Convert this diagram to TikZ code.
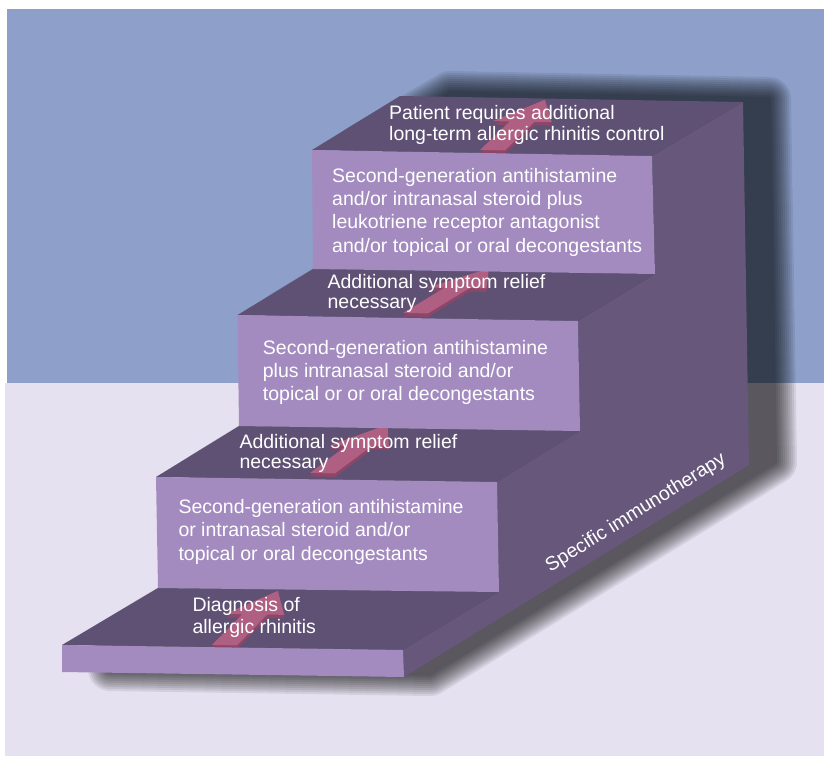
\documentclass[tikz,border=0pt]{standalone}
\usepackage{fontspec}
\setmainfont{Liberation Sans}
\definecolor{bgblue}{HTML}{8EA0CA}
\definecolor{bglav}{HTML}{E6E1F0}
\definecolor{riser}{HTML}{A38BC0}
\definecolor{tread}{HTML}{5F5174}
\definecolor{sideface}{HTML}{66577B}
\definecolor{arrowtop}{HTML}{AF5F81}
\definecolor{arrowside}{HTML}{8E4668}
\newcommand\stairArrow[4]{%
  \begin{scope}[shift={(#1,#2)}, x={(1pt,-0.015pt)}, y={(#3pt,#4pt)}]
    \fill[arrowside, yshift=-3.5pt] (0,0)--(25,0)--(25,0.55)--(42,0.55)--(12.5,0.97)--(-17,0.55)--(0,0.55)--cycle;
    \fill[arrowtop] (0,0)--(25,0)--(25,0.55)--(42,0.55)--(12.5,0.97)--(-17,0.55)--(0,0.55)--cycle;
  \end{scope}}
\tikzset{
  lbl/.style={anchor=north west, inner sep=0pt, align=left, text=white,
    font=\fontsize{19.5}{#1}\selectfont},
  rot/.style={inner sep=0pt, text=white, font=\fontsize{19.5}{21}\selectfont}
}
\begin{document}
\begin{tikzpicture}[x=1pt,y=-1pt]
\useasboundingbox (0,0) rectangle (824,756);
\fill[white] (0,0) rectangle (824,756);
\fill[bgblue] (7,9) rectangle (824,383);
\fill[bglav] (5,383) rectangle (824,756);
% soft shadow (right and below only)
\foreach \w in {44,40,...,4}{
  \begin{scope}[transparency group, opacity=0.08]
  \filldraw[black, line width=\w pt, line join=round, shift={(26,-3)}]
    (424,96)--(743,102)--(749,465)--(404,677)--(84,672)--(84,645)--(178,588)--(176,477)--(259,426)--(257.5,315)--(333,269)--(332,150)--cycle;
  \end{scope}
}
% side face
\fill[sideface] (743,102)--(652,156)--(655,274)--(578,321)--(580,431)--(497,482)--(499,592)--(403,650)--(404,677)--(749,465)--cycle;
% treads
\fill[tread] (312,150)--(652,156)--(743,102)--(400,96)--cycle;
\fill[tread] (237.5,315)--(578,321)--(655,274)--(313,269)--cycle;
\fill[tread] (156,477)--(497,482)--(580,431)--(239,426)--cycle;
\fill[tread] (62,645)--(403,650)--(499,592)--(158,588)--cycle;
% arrows (lying on the treads, pointing to the back)
\stairArrow{212}{645}{55}{56}
\stairArrow{310}{473}{67}{50}
\stairArrow{403}{313}{75.5}{46}
\stairArrow{480}{150}{54}{52}
% risers
\fill[riser] (312,150)--(652,156)--(655,274)--(313,269)--cycle;
\fill[riser] (237.5,315)--(578,321)--(580,431)--(239,426)--cycle;
\fill[riser] (156,477)--(497,482)--(499,592)--(158,588)--cycle;
\fill[riser] (62,645)--(403,650)--(404,677)--(62,672)--cycle;
% texts
\node[lbl=21] (t1) at (389,104) {\rule{0pt}{15pt}Patient requires additional\\long-term allergic rhinitis control};
\node[lbl=23.3] (b4) at (332,167) {\rule{0pt}{15pt}Second-generation antihistamine\\and/or intranasal steroid plus\\leukotriene receptor antagonist\\and/or topical or oral decongestants};
\node[lbl=20] (t3) at (327.4,273) {\rule{0pt}{15pt}Additional symptom relief\\necessary};
\node[lbl=23.3] (b3) at (262.7,339) {\rule{0pt}{15pt}Second-generation antihistamine\\plus intranasal steroid and/or\\topical or or oral decongestants};
\node[lbl=20] (t2) at (239.3,433) {\rule{0pt}{15pt}Additional symptom relief\\necessary};
\node[lbl=23.5] (b2) at (178.3,498) {\rule{0pt}{15pt}Second-generation antihistamine\\or intranasal steroid and/or\\topical or oral decongestants};
\node[lbl=22.5] (t1b) at (192.3,596) {\rule{0pt}{15pt}Diagnosis of\\allergic rhinitis};
\node[rot, rotate=32] (sit) at (636,513) {Specific immunotherapy};
\end{tikzpicture}
\end{document}
